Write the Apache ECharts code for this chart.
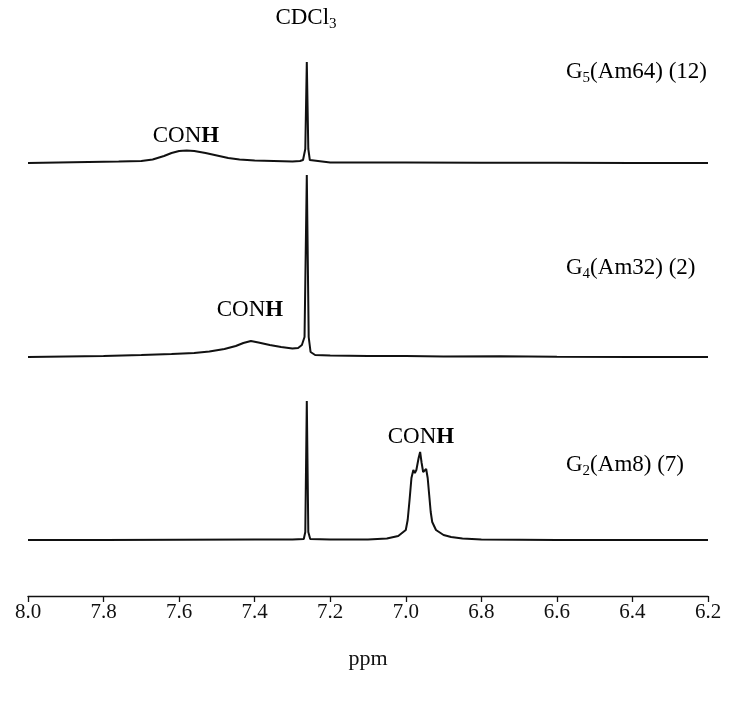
<!DOCTYPE html>
<html>
<head>
<meta charset="utf-8">
<script src="https://cdn.jsdelivr.net/npm/echarts@6/dist/echarts.min.js"></script>
<style>
  html, body { margin: 0; padding: 0; background: #fff; }
  #chart { width: 729px; height: 709px; }
</style>
</head>
<body>
<div id="chart"></div>
<script>
// 1H NMR traces (chemical shift in ppm, intensity in arbitrary units)
const g5Spectrum = [[8.00,0],[7.92,0.5],[7.84,1],[7.76,1.5],[7.70,2],[7.67,3.5],[7.64,7],[7.62,10],[7.60,12],[7.58,12.5],[7.56,12],[7.53,10],[7.50,7.5],[7.47,5],[7.44,3.5],[7.40,2.5],[7.35,2],[7.30,1.5],[7.28,2],[7.272,3],[7.266,14],[7.262,101],[7.258,14],[7.254,3],[7.25,1],[7.20,0.5],[7.00,0.5],[6.80,0.3],[6.60,0.3],[6.40,0],[6.20,0]];
const g4Spectrum = [[8.00,0],[7.90,0.5],[7.80,1],[7.70,2],[7.62,3],[7.56,4],[7.52,5.5],[7.48,8],[7.45,11],[7.43,14],[7.41,16],[7.39,14.5],[7.36,12],[7.33,10],[7.30,8.5],[7.285,9],[7.275,12],[7.268,20],[7.262,182],[7.257,20],[7.252,5],[7.24,2],[7.20,1.5],[7.10,1],[7.00,1],[6.90,0.5],[6.75,0.8],[6.60,0.3],[6.40,0],[6.20,0]];
const g2Spectrum = [[8.00,0],[7.80,0],[7.60,0.3],[7.40,0.5],[7.30,0.5],[7.27,1],[7.266,8],[7.262,139],[7.258,8],[7.253,1],[7.20,0.5],[7.10,0.5],[7.05,1.5],[7.02,4],[7.00,10],[6.995,20],[6.99,40],[6.985,62],[6.980,70],[6.976,67],[6.972,70],[6.966,82],[6.962,88],[6.958,77],[6.954,68],[6.950,70],[6.946,71],[6.942,62],[6.938,45],[6.934,28],[6.93,18],[6.92,10],[6.90,5],[6.88,3],[6.85,1.5],[6.80,0.5],[6.60,0],[6.40,0],[6.20,0]];

const ppmMin = 6.2, ppmMax = 8.0, ppmStep = 0.2;
const axisTitle = 'ppm';

const serif = '"Liberation Serif", "Times New Roman", serif';
const ink = '#111';

const chart = echarts.init(document.getElementById('chart'), null, { renderer: 'canvas' });

function xAxisFor(gridIndex, visible) {
  return {
    gridIndex, type: 'value', inverse: true,
    min: ppmMin, max: ppmMax, interval: ppmStep,
    show: visible,
    name: visible ? axisTitle : '',
    nameLocation: 'middle', nameGap: 52,
    nameTextStyle: { fontFamily: serif, fontSize: 22, color: ink },
    axisLine: { show: visible, onZero: false, lineStyle: { color: ink, width: 1.3 } },
    axisTick: { show: visible, inside: false, length: 6, lineStyle: { color: ink, width: 1.3 } },
    axisLabel: { show: visible, margin: 6, fontFamily: serif, fontSize: 21, color: ink,
                 formatter: v => v.toFixed(1) },
    splitLine: { show: false }
  };
}
function yAxisFor(gridIndex, min, max) {
  return { gridIndex, type: 'value', min, max, show: false, splitLine: { show: false } };
}
function trace(idx, data) {
  return {
    type: 'line', xAxisIndex: idx, yAxisIndex: idx, data,
    symbol: 'none', smooth: false, silent: true,
    lineStyle: { color: ink, width: 2 }
  };
}

const rich = {
  n: { fontFamily: serif, fontSize: 23, color: ink, lineHeight: 27 },
  b: { fontFamily: serif, fontSize: 23, color: ink, fontWeight: 'bold', lineHeight: 27 },
  sub: { fontFamily: serif, fontSize: 15, color: ink, padding: [13, 0, 0, 0] }
};
function label(x, y, text, align) {
  return { type: 'text', x, y, style: { text, rich, align: align || 'left', verticalAlign: 'middle' } };
}

chart.setOption({
  backgroundColor: '#fff',
  animation: false,
  grid: [
    { left: 28, right: 21, top: 50, height: 113 },
    { left: 28, right: 21, top: 170, height: 187 },
    { left: 28, right: 21, top: 390, height: 206 }
  ],
  xAxis: [xAxisFor(0, false), xAxisFor(1, false), xAxisFor(2, true)],
  yAxis: [yAxisFor(0, 0, 113), yAxisFor(1, 0, 187), yAxisFor(2, -56, 150)],
  series: [trace(0, g5Spectrum), trace(1, g4Spectrum), trace(2, g2Spectrum)],
  graphic: [
    label(306, 18, '{n|CDCl}{sub|3}', 'center'),
    label(186, 136, '{n|CON}{b|H}', 'center'),
    label(250, 310, '{n|CON}{b|H}', 'center'),
    label(421, 437, '{n|CON}{b|H}', 'center'),
    label(566, 72, '{n|G}{sub|5}{n|(Am64) (12)}'),
    label(566, 268, '{n|G}{sub|4}{n|(Am32) (2)}'),
    label(566, 465, '{n|G}{sub|2}{n|(Am8) (7)}')
  ]
});
</script>
</body>
</html>
